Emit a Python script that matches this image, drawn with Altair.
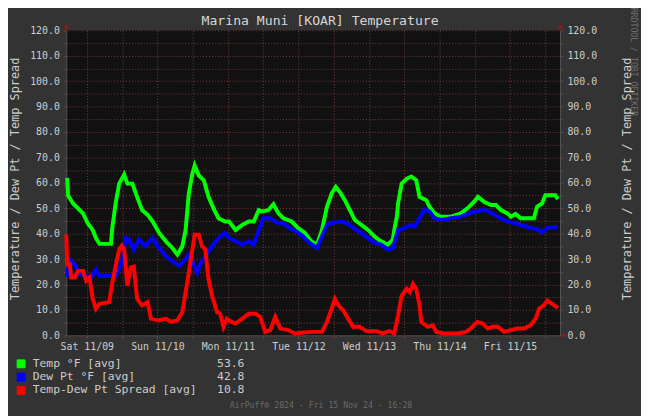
import altair as alt
import pandas as pd

# ---------------- data (hours from Sat 11/09 00:00) ----------------
temp_hours = [-6.7, -6.4, -4.7, -3.0, -1.3, 0.3, 2.0, 3.1, 4.3, 8.2, 8.7, 9.8, 11.0, 12.7, 13.8, 15.5,
              17.1, 18.8, 20.7, 22.4, 24.6, 26.9, 29.1, 30.8, 32.5, 33.6, 34.7, 35.9, 36.7, 38.1, 39.8,
              41.4, 43.1, 44.8, 47.0, 48.4, 50.6, 52.9, 55.1, 56.8, 58.5, 59.6, 61.8, 63.5, 65.2, 66.9,
              69.7, 71.9, 74.2, 76.4, 78.3, 80.0, 81.7, 83.3, 84.7, 86.1, 87.8, 89.5, 91.2, 93.4, 95.7,
              97.9, 100.1, 102.4, 104.1, 104.8, 105.5, 105.9, 107.1, 108.8, 110.4, 112.1, 113.2, 115.5,
              116.6, 118.3, 120.5, 123.9, 127.3, 129.5, 131.7, 133.1, 135.3, 137.5, 139.2, 140.9, 143.1,
              144.3, 145.9, 147.6, 152.1, 153.2, 154.9, 156.0, 159.4, 160.3]
temp_vals = [62.0, 55.1, 51.9, 50.0, 48.0, 44.1, 41.5, 38.3, 36.0, 36.0, 42.8, 51.9, 59.7, 63.3, 59.7, 59.7,
             54.5, 49.3, 47.4, 44.8, 40.3, 37.0, 34.4, 31.8, 35.1, 41.5, 55.8, 63.6, 66.8, 62.9, 61.0,
             54.5, 50.0, 46.1, 44.8, 44.8, 41.5, 43.5, 44.8, 44.8, 49.3, 48.7, 49.3, 51.6, 48.0, 46.1,
             44.8, 42.2, 40.3, 37.0, 35.7, 41.5, 50.6, 55.8, 58.4, 56.4, 53.2, 49.3, 45.4, 43.5, 41.5,
             38.9, 37.0, 35.7, 37.7, 42.8, 46.7, 51.9, 59.7, 61.6, 62.5, 61.0, 54.5, 53.2,
             50.6, 48.0, 46.7, 46.7, 48.0, 50.0, 52.5, 54.5, 52.5, 51.3, 51.3, 49.3, 48.0,
             46.7, 47.8, 46.1, 46.1, 50.6, 51.9, 55.1, 55.1, 53.6]

dew_hours = [-6.7, -6.0, -4.2, -2.5, -0.2, 1.5, 3.1, 4.3, 9.8, 11.0, 12.1, 13.2, 14.3, 16.0, 17.7, 19.9,
             22.4, 24.6, 26.9, 29.1, 31.4, 33.0, 34.7, 35.9, 37.5, 38.6, 40.3, 42.6, 44.8, 47.0, 48.4,
             50.6, 52.9, 55.1, 56.8, 58.5, 60.1, 62.4, 64.6, 66.9, 69.1, 71.3, 73.6, 75.8, 78.3, 80.0,
             81.7, 83.9, 86.7, 88.9, 91.2, 93.4, 95.7, 97.9, 100.1, 102.4, 104.1, 105.9, 108.2, 109.9,
             111.6, 113.2, 114.9, 116.6, 118.3, 120.5, 123.9, 127.3, 130.6, 134.4, 136.4, 139.8, 143.1,
             146.5, 149.9, 153.2, 154.9, 156.6, 160.3]
dew_vals = [23.0, 29.9, 28.0, 24.1, 23.4, 22.8, 26.0, 23.4, 23.4, 26.0, 29.9, 38.3, 37.7, 33.8, 37.7, 35.1,
            38.3, 34.4, 31.2, 29.2, 27.3, 29.2, 31.8, 29.2, 24.7, 28.0, 31.2, 35.1, 38.3, 40.3, 38.3,
            37.0, 35.7, 37.0, 35.7, 41.5, 46.1, 46.1, 44.4, 44.1, 42.2, 40.9, 38.9, 36.4, 34.4, 38.9,
            43.5, 44.4, 44.8, 43.9, 41.8, 40.3, 38.3, 36.4, 35.7, 33.8, 34.4, 41.5, 42.2, 43.5,
            42.8, 46.1, 49.6, 48.7, 46.1, 45.4, 46.1, 46.7, 48.3, 49.3, 49.0, 46.7, 44.8,
            43.9, 42.6, 41.8, 40.5, 42.2, 42.8]

spread_hours = [-7.0, -6.7, -5.8, -5.3, -4.1, -3.0, -1.3, -0.2, 0.9, 2.0, 3.1, 4.3, 7.6, 8.7, 9.8, 11.0,
                11.9, 12.7, 13.8, 14.9, 16.0, 17.1, 18.8, 20.7, 21.8, 24.6, 26.9, 28.6, 30.8, 32.5, 33.6,
                34.7, 35.9, 36.7, 38.1, 39.2, 40.3, 41.4, 42.6, 44.3, 45.4, 46.5, 47.6, 49.3, 50.6, 52.9,
                55.1, 57.4, 59.0, 60.7, 62.4, 64.1, 65.8, 68.5, 70.8, 74.2, 77.5, 80.0, 81.7, 83.3, 84.4,
                85.6, 87.3, 88.9, 90.6, 92.8, 95.1, 98.5, 100.7, 102.9, 104.6, 105.9, 107.1, 108.8, 109.9,
                111.0, 112.1, 113.2, 113.8, 116.0, 117.7, 118.9, 121.6, 126.1, 128.9, 130.6, 132.8, 134.7,
                136.4, 138.1, 139.8, 142.0, 144.3, 146.5, 148.8, 151.0, 152.7, 153.9, 155.5, 156.7, 158.3,
                160.3]
spread_vals = [39.6, 28.0, 28.0, 22.8, 22.8, 25.4, 25.4, 21.5, 22.8, 14.4, 10.5, 12.4, 13.1, 20.9, 27.3, 33.8,
               35.3, 33.8, 19.5, 26.7, 27.1, 14.4, 11.8, 13.1, 6.6, 5.9, 6.6, 5.3, 5.9, 9.2, 17.0,
               24.7, 33.8, 39.6, 39.6, 35.1, 33.8, 22.1, 15.6, 9.2, 8.5, 3.4, 6.6, 5.3, 4.7, 6.6,
               8.5, 8.5, 7.3, 1.4, 2.1, 7.3, 2.7, 2.1, 0.8, 1.2, 1.4, 1.4, 5.3, 10.5, 14.4,
               11.8, 9.8, 6.6, 3.4, 3.4, 1.7, 1.7, 0.8, 1.7, 0.8, 7.9, 15.6, 18.3, 17.0,
               20.2, 18.3, 11.8, 5.3, 3.4, 4.0, 1.4, 0.8, 0.8, 1.4, 2.7, 5.3, 4.7,
               2.7, 3.4, 3.4, 1.4, 2.1, 2.7, 2.7, 4.0, 6.6, 10.5, 11.8, 13.7, 12.4,
               10.8]

series_names = ["Temp °F [avg]", "Dew Pt °F [avg]", "Temp-Dew Pt Spread [avg]"]
series_colors = ["#00ff00", "#0000ff", "#ff0000"]
current_values = ["53.6", "42.8", "10.8"]
day_labels = ["Sat 11/09", "Sun 11/10", "Mon 11/11", "Tue 11/12", "Wed 11/13", "Thu 11/14", "Fri 11/15"]
y_ticks = list(range(0, 121, 5))
x_ticks = list(range(0, 157, 12))

title_text = "Marina Muni [KOAR] Temperature"
axis_title = "Temperature / Dew Pt / Temp Spread"
footer_text = "AirPuff® 2024 - Fri 15 Nov 24 - 16:28"
watermark_text = "RRDTOOL / TOBI OETIKER"

rows = []
for name, hs, vs in zip(series_names, [temp_hours, dew_hours, spread_hours],
                        [temp_vals, dew_vals, spread_vals]):
    for h, v in zip(hs, vs):
        rows.append({"series": name, "hour": h, "value": v})
df = pd.DataFrame(rows)
legend_df = pd.DataFrame({"series": series_names})
one = pd.DataFrame({"k": [0]})

# ---------------- styling ----------------
W, H = 500, 309
FONT = "DejaVu Sans Mono"
GRID = "#7d3c3c"
TXT = "#cdcdcd"
ARROW = "#a01616"

x_scale = alt.Scale(domain=[-7, 161], nice=False, zero=False)
y_scale = alt.Scale(domain=[0, 120], nice=False, zero=True)
color_scale = alt.Scale(domain=series_names, range=series_colors)

days_js = "[" + ",".join("'" + d + "'" for d in day_labels) + "]"
x_axis = alt.Axis(values=x_ticks, title=None,
                  labelExpr="datum.value % 24 == 0 ? " + days_js + "[datum.value / 24] : ''",
                  labelFont=FONT, labelFontSize=10, labelColor=TXT, labelPadding=3,
                  labelOverlap=False, labelFlush=False,
                  grid=True, gridColor=GRID, gridDash=[1, 2], gridWidth=1,
                  domainColor="#555555", tickColor=GRID, tickSize=3)

y_label_expr = "datum.value % 10 == 0 ? format(datum.value, '.1f') : ''"
left_axis = alt.Axis(values=y_ticks, orient="left", labelExpr=y_label_expr,
                     labelFont=FONT, labelFontSize=10, labelColor=TXT, labelPadding=4,
                     grid=True, gridColor=GRID, gridDash=[1, 2], gridWidth=1,
                     domainColor="#555555", tickColor=GRID, tickSize=3,
                     title=axis_title, titleFont=FONT, titleFontSize=12, titleFontWeight="normal",
                     titleColor=TXT, titleAngle=270, titleX=-52, titleY=150,
                     titleAlign="center", titleBaseline="middle")
right_axis = alt.Axis(values=y_ticks, orient="right", labelExpr=y_label_expr,
                      labelFont=FONT, labelFontSize=10, labelColor=TXT, labelPadding=4,
                      grid=False, domainColor="#555555", tickColor=GRID, tickSize=3,
                      title=axis_title, titleFont=FONT, titleFontSize=12, titleFontWeight="normal",
                      titleColor=TXT, titleAngle=270, titleX=67, titleY=150,
                      titleAlign="center", titleBaseline="middle")

def js(s):
    return "'" + s + "'"

legend_text = [n + "\u00a0" * (27 - len(n)) + v for n, v in zip(series_names, current_values)]
legend_expr = ("datum.label == " + js(series_names[0]) + " ? " + js(legend_text[0]) +
               " : datum.label == " + js(series_names[1]) + " ? " + js(legend_text[1]) +
               " : " + js(legend_text[2]))

legend = alt.Legend(title=None, orient="none", legendX=-51.5, legendY=332, direction="vertical",
                    symbolType="square", symbolSize=64, symbolStrokeColor="#000000",
                    symbolStrokeWidth=1, symbolOpacity=1, labelFont=FONT, labelFontSize=11.5,
                    labelColor=TXT, labelLimit=600, rowPadding=0.5, labelOffset=6, padding=0,
                    labelExpr=legend_expr)

# legend-driving layer first (squares kept outside the canvas), so its legend is used
legend_layer = alt.Chart(legend_df).mark_square(size=64, filled=True, opacity=1).encode(
    x=alt.value(-200), y=alt.value(-200),
    color=alt.Color("series:N", scale=color_scale, legend=legend),
)

base = alt.Chart(df)
layers = []
for i, name in enumerate(series_names):
    layers.append(
        base.transform_filter(alt.datum.series == name)
        .mark_line(strokeWidth=4)
        .encode(
            x=alt.X("hour:Q", scale=x_scale, axis=x_axis if i == 0 else None),
            y=alt.Y("value:Q", scale=y_scale, axis=left_axis if i == 0 else None),
            color=alt.Color("series:N", scale=color_scale),
        )
    )

right_layer = base.mark_line(opacity=0).encode(
    x=alt.X("hour:Q", scale=x_scale, axis=None),
    y=alt.Y("value:Q", scale=y_scale, axis=right_axis),
)

title_layer = alt.Chart(one).mark_text(text=title_text, font=FONT, fontSize=13.3, color="#d6d6d6",
                                       align="center", baseline="middle").encode(
    x=alt.value(257), y=alt.value(-9))
footer_layer = alt.Chart(one).mark_text(text=footer_text, font=FONT, fontSize=8.3, color="#6a6a6a",
                                        align="center", baseline="middle").encode(
    x=alt.value(258), y=alt.value(380))
watermark_layer = alt.Chart(one).mark_text(text=watermark_text, font=FONT, fontSize=8.3,
                                           color="#6e6e6e", align="center", baseline="middle",
                                           angle=90).encode(
    x=alt.value(574), y=alt.value(32))
arrow_up = alt.Chart(pd.DataFrame({"p": [0, W]})).mark_point(
    shape="triangle-up", filled=True, size=28, color=ARROW, opacity=1).encode(
    x=alt.X("p:Q", scale=alt.Scale(domain=[0, W], range=[0, W]), axis=None), y=alt.value(-4))
arrow_right = alt.Chart(one).mark_point(
    shape="triangle-right", filled=True, size=28, color=ARROW, opacity=1).encode(
    x=alt.value(W + 5), y=alt.value(H))

chart = alt.layer(legend_layer, *layers, right_layer, title_layer, footer_layer,
                  watermark_layer, arrow_up, arrow_right).resolve_scale(
    x="independent").resolve_axis(x="independent", y="independent").properties(
    width=W, height=H,
    padding={"left": 59, "top": 20, "right": 82, "bottom": 79},
    autosize=alt.AutoSizeParams(type="none"),
).configure(background="#333333").configure_view(fill="#111111", stroke="#111111")

chart.save("out.html", embed_options={"renderer": "svg", "actions": False})
